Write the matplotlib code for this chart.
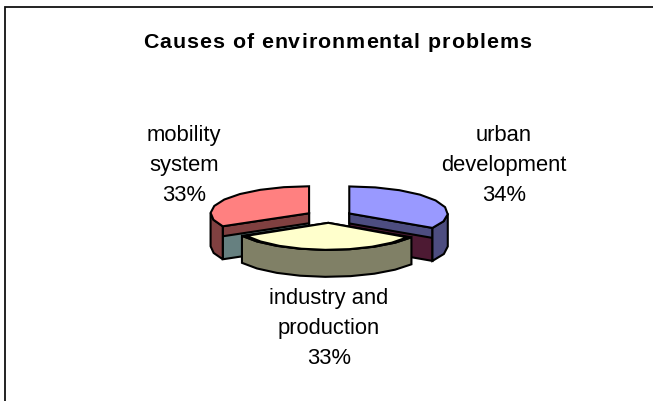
import numpy as np
import matplotlib
matplotlib.use("Agg")
import matplotlib.pyplot as plt
from matplotlib.patches import Polygon
from matplotlib.textpath import TextPath
from matplotlib.font_manager import FontProperties

labels = ["urban\ndevelopment\n34%", "industry and\nproduction\n33%", "mobility\nsystem\n33%"]
values = [34, 33, 33]
title = "Causes of environmental problems"

face_colors = ["#9999FF", "#FFFFCC", "#FF8080"]
band_colors = ["#4D4D80", "#808066", "#804040"]
inner_colors = ["#4D1A33", "#808066", "#668080"]
label_pos = [(504, 201), (329, 364), (184, 201)]

cx, cy = 329.0, 216.5
rx, ry = 98.5, 27.0
explode = 0.235
depth = [33, 27, 33]
band = 10
step = 14

plt.rcParams['font.family'] = ['Liberation Sans', 'DejaVu Sans']
fig = plt.figure(figsize=(6.53, 4.01), dpi=100)
ax = fig.add_axes([0, 0, 1, 1])
ax.set_xlim(0, 653)
ax.set_ylim(401, 0)
ax.axis('off')


def pt(c, a, sx=1.0):
    # angle clockwise from the top, screen coords
    return np.array([c[0] + sx * rx * np.sin(a), c[1] - ry * np.cos(a)])


def arc(c, a0, a1, sx=1.0):
    n = max(2, int(np.degrees(a1 - a0) / step) + 1)
    return [pt(c, a, sx) for a in np.linspace(a0, a1, n)]


def shift(points, d):
    return [p + np.array([0, d]) for p in points]


def poly(points, color, z):
    ax.add_patch(Polygon(points, closed=True, facecolor=color, edgecolor='black', lw=1.5, joinstyle='miter', zorder=z))


edges = np.radians(np.cumsum([0] + values) / sum(values) * 360)
order = [0, 2, 1]
for z, i in enumerate(order):
    a0, a1 = edges[i], edges[i + 1]
    mid = (a0 + a1) / 2
    c = np.array([cx + explode * rx * np.sin(mid), cy - explode * ry * np.cos(mid)])
    d = depth[i]
    base = 10 * (z + 1)

    if i == 1:
        # front slice: full wall, face sits a little inside
        rim = arc(c, a0, a1)
        poly(rim + shift(rim, d)[::-1], band_colors[i], base)
        poly([c] + rim, band_colors[i], base + 1)
        poly([c] + arc(c, a0, a1, 0.95), face_colors[i], base + 2)
        continue

    # inner cut wall, two colours
    cut = a1 if i == 0 else a0
    p = pt(c, cut)
    poly([c, p, p + [0, d], c + [0, d]], inner_colors[i], base)
    poly([c, p, p + [0, band], c + [0, band]], band_colors[i], base + 1)

    # outer wall, only the part turned to the viewer
    if i == 0:
        rim = arc(c, np.pi / 2, a1)
    else:
        rim = arc(c, a0, 1.5 * np.pi)
    poly(rim + shift(rim, d)[::-1], band_colors[i], base + 2)
    poly([c] + arc(c, a0, a1), face_colors[i], base + 3)

# frame runs off the picture on the right and bottom
ax.plot([5, 5, 653], [401, 7, 7], color='#111111', lw=1.3, zorder=1, solid_joinstyle='miter')

# title is letter-spaced in the original
fp = FontProperties(family='Liberation Sans', weight='bold', size=15.4)
bar = TextPath((0, 0), "|", prop=fp).get_extents().x1
adv = [TextPath((0, 0), title[:k + 1] + "|", prop=fp).get_extents().x1 - bar for k in range(len(title))]
adv = np.array([0] + adv) * 100 / 72
extra = (388.0 - adv[-1]) / (len(title) - 1)
for k, ch in enumerate(title):
    ax.text(143 + adv[k] + extra * k, 47.7, ch, ha='left', va='baseline', fontproperties=fp, color='black', zorder=100)

for lab, (x, y) in zip(labels, label_pos):
    ax.text(x, y, lab, ha='center', va='baseline', fontsize=15.8, linespacing=1.55, color='black', zorder=100)

fig.savefig("out.png", dpi=100)
